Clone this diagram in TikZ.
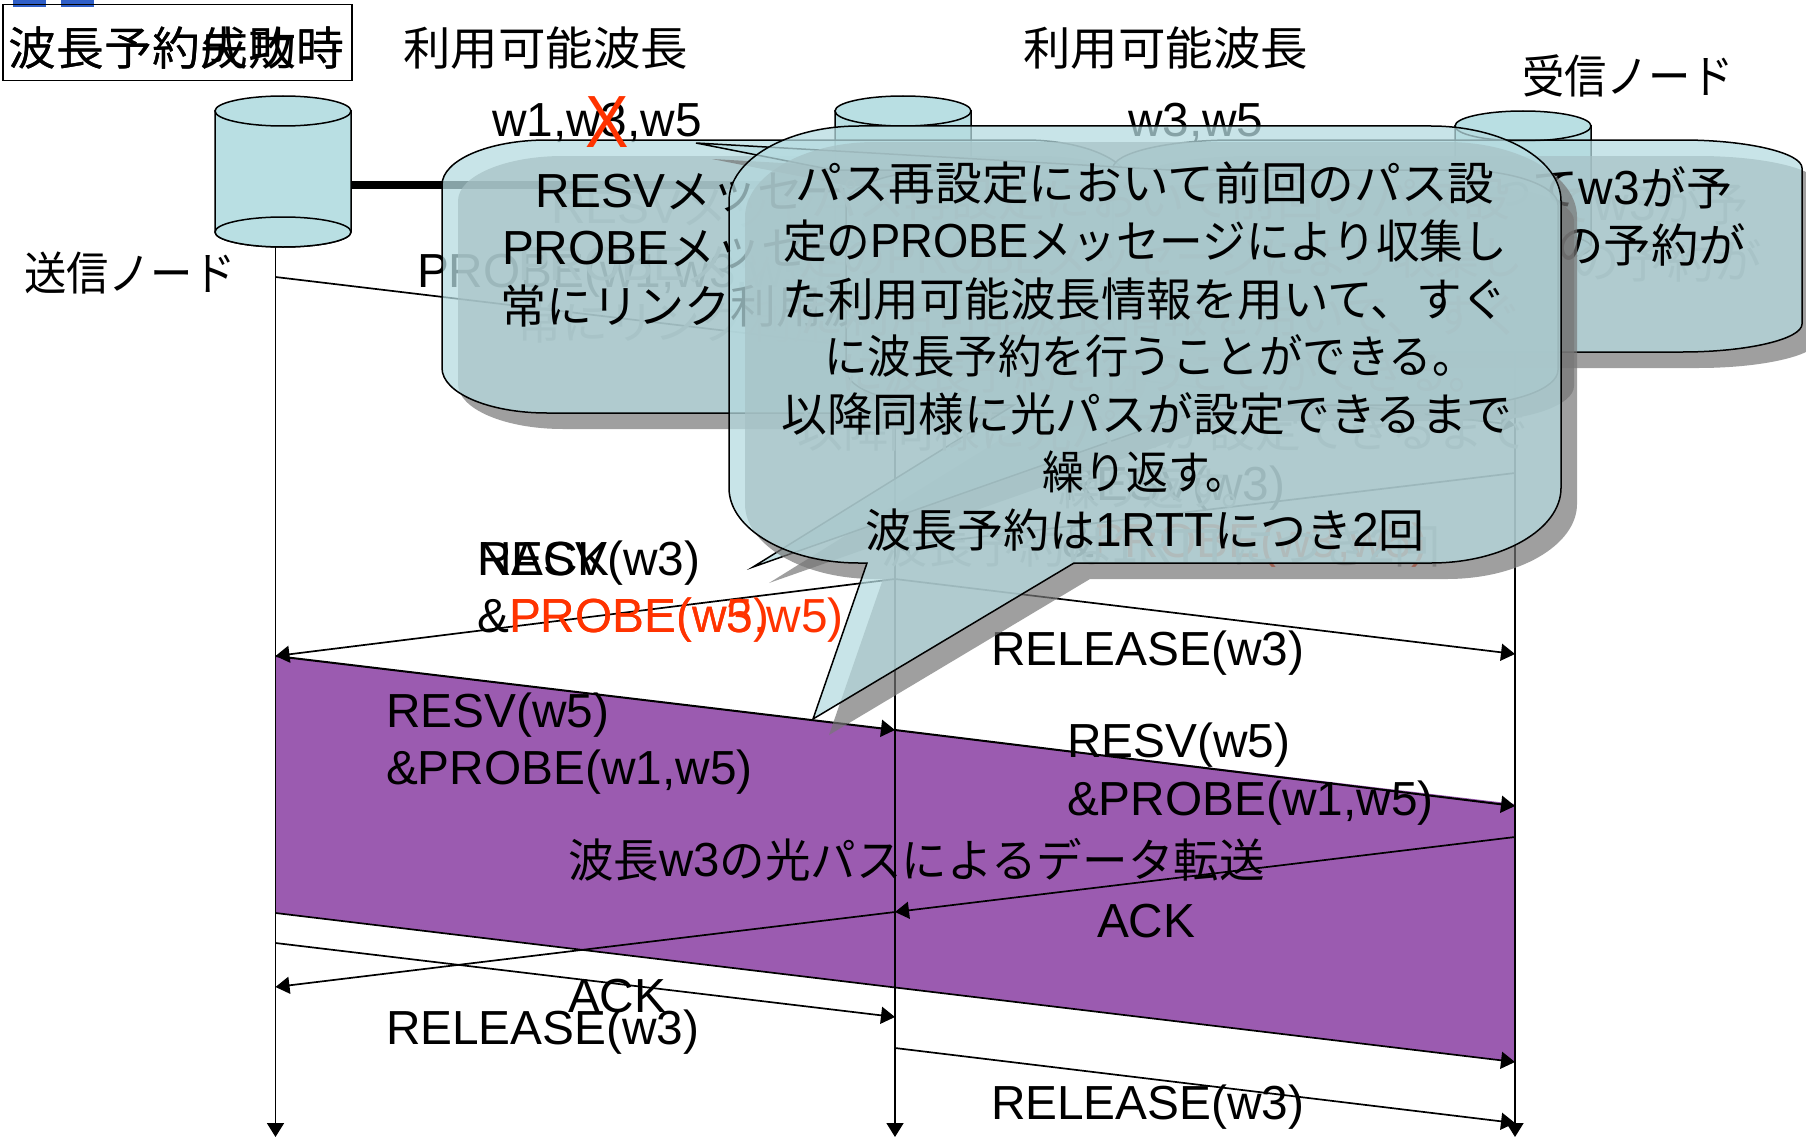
\documentclass[tikz,border=0pt]{standalone}
\usepackage{graphicx}
\usepackage{fontspec}
\setmainfont{Liberation Sans}
\newfontfamily\cjk{Noto Sans CJK JP}
\usetikzlibrary{arrows.meta}
\definecolor{cylfill}{HTML}{B9DFE3}
\definecolor{bubblefill}{RGB}{182,219,224}
\definecolor{purpleband}{HTML}{9B5BB0}
\definecolor{redmark}{HTML}{FF3300}
\definecolor{ghostink}{HTML}{808080}
\definecolor{shadowgrey}{HTML}{777777}
\definecolor{topblue}{HTML}{2F5FC8}
\newcommand{\J}[1]{\raisebox{-1pt}{\fontsize{46}{46}\selectfont\cjk #1}}
\newcommand{\SX}[2]{\scalebox{#1}[1]{#2}}
\tikzset{
  lab/.style={inner sep=0pt,outer sep=0pt,anchor=base west,xshift=-2pt,font=\fontsize{47.8}{50}\selectfont},
  labc/.style={lab,anchor=base},
  labr/.style={lab,anchor=base east},
  msg/.style={line width=1.7pt,-{Triangle[length=14pt,width=17pt]}},
  life/.style={line width=1.7pt,-{Triangle[length=14pt,width=17pt]}},
  cyl/.style={draw=black,line width=1.5pt,fill=cylfill},
  bubble/.style={draw=black,line width=1.5pt,fill=bubblefill,fill opacity=.74,draw opacity=1},
  bubbleshadow/.style={fill=shadowgrey,fill opacity=.7},
  ghost/.style={shift={(16,16)},every node/.append style={text=ghostink}}
}
\newcommand{\cylinderat}[3]{%
  % #1 name, #2 centre x, #3 top-ellipse centre y
  \path[cyl] (#2-68,#3) -- (#2-68,#3+121) arc[start angle=180,end angle=360,x radius=68pt,y radius=15pt] -- (#2+68,#3) -- cycle;
  \draw[cyl] (#2,#3+121) ellipse[x radius=68pt,y radius=15pt];
  \draw[cyl] (#2,#3) ellipse[x radius=68pt,y radius=15pt];
  \coordinate (#1w) at (#2-68,#3+74);
  \coordinate (#1e) at (#2+68,#3+74);
}
\def\pathCi{(547,140) -- (1025,140) .. controls (1083,140) and (1130,160) .. (1130,185) -- (1130,368) .. controls (1130,393) and (1083,413) .. (1025,413) -- (547,413) .. controls (489,413) and (442,393) .. (442,368) -- (442,185) .. controls (442,160) and (489,140) .. (547,140) -- cycle}
\def\pathCii{(1233,140) -- (1682,140) .. controls (1748,140) and (1802,153) .. (1802,168) -- (1802,324) .. controls (1802,339) and (1748,352) .. (1682,352) -- (1233,352) .. controls (1167,352) and (1113,339) .. (1113,324) -- (1113,168) .. controls (1113,153) and (1167,140) .. (1233,140) -- cycle}
\def\pathCiv{(696,143) -- (1170,170) -- (1458,170) .. controls (1513,170) and (1558,186) .. (1558,205) -- (1558,370) .. controls (1558,389) and (1513,405) .. (1458,405) -- (1214,405) -- (753,567) -- (1014,405) -- (946,405) .. controls (891,405) and (846,389) .. (846,370) -- (846,205) .. controls (846,186) and (891,170) .. (946,170) -- (833,170) -- cycle}
\def\pathCiii{(859,126) -- (1431,126) .. controls (1503,126) and (1561,160) .. (1561,201) -- (1561,488) .. controls (1561,529) and (1503,563) .. (1431,563) -- (1074,563) -- (813,719) -- (867,563) -- (859,563) .. controls (787,563) and (729,529) .. (729,488) -- (729,201) .. controls (729,160) and (787,126) .. (859,126) -- cycle}
\newcommand{\textCi}[1]{%
  \node[lab] (#1a) at (537,207) {RESV\J{メッセー}};
  \node[lab] (#1b) at (504,264) {PROBE\J{メッセー}};
  \node[lab] (#1c) at (502,322) {\J{常にリンク利用波}};
}
\newcommand{\textCii}[1]{%
  \node[labr] (#1a) at (1734,204) {\J{って}w3\J{が予}};
  \node[labr] (#1b) at (1748,261) {\SX{1.03}{\J{の予約が}}};
}
\newcommand{\textCiii}[1]{%
  \node[labc] (#1a) at (1147,199) {\SX{1.015}{\J{パス再設定において前回のパス設}}};
  \node[labc] (#1b) at (1147,257) {\SX{.948}{\J{定の}PROBE\J{メッセージにより収集し}}};
  \node[labc] (#1c) at (1147,315) {\SX{.99}{\J{た利用可能波長情報を用いて、すぐ}}};
  \node[labc] (#1d) at (1152,372) {\SX{.945}{\J{に波長予約を行うことができる。}}};
  \node[labc] (#1e) at (1149,430) {\SX{.995}{\J{以降同様に光パスが設定できるまで}}};
  \node[labc] (#1f) at (1147,488) {\SX{.91}{\J{繰り返す。}}};
  \node[labc] (#1g) at (1147,546) {\J{波長予約は}1RTT\J{につき}2\J{回}};
}
\begin{document}
\begin{tikzpicture}[x=1pt,y=-1pt]
\clip (0,0) rectangle (1806,1137);
\fill[white] (0,0) rectangle (1806,1137);

% purple band
\coordinate (bandTL) at (275.5,656);
\coordinate (bandTM) at (895,730);
\coordinate (bandTR) at (1515,804);
\coordinate (bandBR) at (1515,1062);
\coordinate (bandBL) at (275.5,913);
\fill[purpleband] (bandTL) -- (bandTM) -- (bandTR) -- (bandBR) -- (bandBL) -- cycle;

% top blue marks and title
\fill[topblue] (13,0) rectangle (46,7);
\fill[topblue] (61,0) rectangle (94,7);
\node[draw=black,line width=1.5pt,minimum width=349pt,minimum height=76pt,inner sep=0pt,anchor=north west] (titlebox) at (2,4) {};
\node[lab] (titlea) at (11,65) {\SX{1.04}{\J{波長予約成功時}}};
\node[lab] (titleb) at (11,65) {\SX{1.04}{\J{波長予約失敗時}}};
\node[lab] (availa) at (405,65) {\SX{1.033}{\J{利用可能波長}}};
\node[lab] (availb) at (1025,65) {\SX{1.033}{\J{利用可能波長}}};
\node[lab] (recv) at (1524,93) {\SX{.92}{\J{受信ノード}}};
\node[lab] (send) at (26,289) {\SX{.92}{\J{送信ノード}}};
\node[lab] (wa) at (494,136) {w1,w3,w5};
\node[lab] (wb) at (1130,136) {w3,w5};

% nodes
\cylinderat{cyla}{283}{111}
\cylinderat{cylb}{903}{111}
\cylinderat{cylc}{1523}{126}
\draw[line width=8pt] (cylae) -- (cylbw);
\draw[line width=8pt] (cylbe) -- (cylcw);

% lifelines
\coordinate (la) at (275.5,247); \coordinate (laend) at (275.5,1137);
\coordinate (lb) at (895,247); \coordinate (lbend) at (895,1137);
\coordinate (lc) at (1515,262); \coordinate (lcend) at (1515,1137);
\draw[life] (la) -- (laend);
\draw[life] (lb) -- (lbend);
\draw[life] (lc) -- (lcend);

% messages
\coordinate (pa) at (275.5,277); \coordinate (pb) at (895,351); \coordinate (pc) at (1515,425);
\draw[msg] (pa) -- (pb);
\draw[msg] (pb) -- (pc);
\coordinate (ra) at (1515,473); \coordinate (rb) at (895,547);
\draw[msg] (ra) -- (rb);
\coordinate (rc) at (895,579); \coordinate (rd) at (275.5,656);
\draw[msg] (rc) -- (rd);
\coordinate (re) at (1515,654);
\draw[msg] (rc) -- (re);
\draw[msg,line width=2pt] (bandTL) -- (bandTM);
\coordinate (bandTRa) at (1515,806);
\draw[msg,line width=2pt] (bandTM) -- (bandTRa);
\draw[msg] (bandBL) -- (bandBR);
\coordinate (aa) at (1515,837); \coordinate (ab) at (895,912); \coordinate (ac) at (275.5,987);
\draw[msg] (aa) -- (ab);
\draw[msg] (ab) -- (ac);
\coordinate (ta) at (275.5,943); \coordinate (tb) at (895,1017);
\draw[msg] (ta) -- (tb);
\coordinate (tc) at (895,1048); \coordinate (td) at (1515,1123);
\draw[msg] (tc) -- (td);

% message labels
\node[lab] (probeall) at (419,287) {PROBE(w1,w3,w5)};
\node[lab] (resvhid) at (1064,500) {RESV(w3)};
\node[lab] (amphid) at (1064,557) {\&};
\node[lab,text=redmark] (probehid) at (1095,557) {PROBE(w3,w5)};
\node[lab] (resvl) at (479,575) {RESV(w3)};
\node[lab] (nackl) at (479,575) {NACK};
\node[lab] (ampl) at (479,632) {\&};
\node[lab,text=redmark] (probea) at (511,632) {PROBE(w5)};
\node[lab,text=redmark] (probeb) at (511,632) {PROBE(w3,w5)};
\node[lab] (rela) at (993,665) {RELEASE(w3)};
\node[lab] (resvb) at (388,727) {RESV(w5)};
\node[lab] (probec) at (388,784) {\&PROBE(w1,w5)};
\node[lab] (resvc) at (1069,757) {RESV(w5)};
\node[lab] (probed) at (1069,815) {\&PROBE(w1,w5)};
\node[lab] (datalab) at (570,876) {\SX{.99}{\J{波長}w3\J{の光パスによるデータ転送}}};
\node[lab] (acka) at (1099,937) {ACK};
\node[lab] (ackb) at (570,1012) {ACK};
\node[lab] (relb) at (388,1044) {RELEASE(w3)};
\node[lab] (relc) at (993,1119) {RELEASE(w3)};

% callouts, bottom to top
\fill[bubbleshadow,shift={(16,16)}] \pathCi;
\begin{scope}[ghost]\textCi{ga}\end{scope}
\path[bubble] \pathCi;
\textCi{ca}
\node[lab,text=redmark,font=\fontsize{74}{74}\selectfont] (cross) at (587,147) {\scalebox{.88}[1]{X}};
\fill[bubbleshadow,shift={(16,16)}] \pathCii;
\begin{scope}[ghost]\textCii{gb}\end{scope}
\path[bubble] \pathCii;
\textCii{cb}
\fill[bubbleshadow,shift={(16,16)}] \pathCiv;
\path[bubble] \pathCiv;
\fill[bubbleshadow,shift={(16,16)}] \pathCiii;
\begin{scope}[ghost]\textCiii{gc}\end{scope}
\path[bubble] \pathCiii;
\textCiii{cc}
\end{tikzpicture}
\end{document}
